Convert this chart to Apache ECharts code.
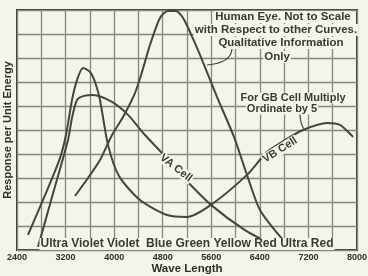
<!DOCTYPE html>
<html>
<head>
<meta charset="utf-8">
<script src="https://cdn.jsdelivr.net/npm/echarts@6/dist/echarts.min.js"></script>
<style>
html,body{margin:0;padding:0;background:#f5f4ea;}
#main{width:368px;height:276px;}
</style>
</head>
<body>
<div id="main"></div>
<script>
// 波长刻度标签
var xTickLabels = ['2400', '3200', '4000', '4800', '5600', '6400', '7200', '8000'];

// 人眼曲线（定性）
var eyeX = [3355, 3569, 3767, 3965, 4146, 4343, 4459, 4590, 4755, 4887, 5019, 5134, 5250, 5414, 5694, 5974, 6188, 6402, 6781];
var eyeY = [2.25, 3.0, 3.75, 4.79, 5.54, 6.54, 7.42, 8.54, 9.67, 9.96, 9.96, 9.67, 9.08, 8.13, 6.38, 4.71, 3.13, 1.67, 0.42];

// VA 光电管
var vaX = [2746, 2993, 3240, 3306, 3388, 3504, 3652, 3964, 4228, 4508, 4788, 5002, 5134, 5595, 6155, 6649];
var vaY = [0.13, 2.35, 4.58, 5.5, 6.25, 6.42, 6.46, 6.17, 5.63, 4.79, 4.04, 3.42, 3.04, 1.88, 0.83, 0.17];

// VB 光电管
var vbX = [2581, 2878, 3108, 3207, 3306, 3388, 3487, 3602, 3685, 3767, 3899, 4080, 4426, 4871, 5200, 5595, 6188, 6517, 6814, 7111, 7506, 7720, 7935];
var vbY = [0.63, 2.38, 3.83, 4.79, 6.25, 7.08, 7.58, 7.42, 7.0, 6.25, 4.38, 3.08, 2.08, 1.46, 1.38, 1.88, 3.13, 4.08, 4.58, 5.0, 5.29, 5.21, 4.71];

var bg = '#f5f4ea';
var ink = '#45453c';
var font = 'Liberation Sans';

function pairs(xs, ys) {
    var out = [];
    for (var i = 0, l = xs.length; i < l; i++) {
        out.push([xs[i], ys[i]]);
    }
    return out;
}

function curve(name, xs, ys) {
    return {
        name: name,
        type: 'line',
        smooth: 0.25,
        showSymbol: false,
        lineStyle: {color: ink, width: 2},
        data: pairs(xs, ys)
    };
}

function note(x, y, str, size, rot) {
    return {
        type: 'text',
        x: x, y: y,
        rotation: rot || 0,
        z: 10,
        style: {
            text: str,
            font: 'bold ' + size + 'px ' + font,
            fill: '#3a3a34',
            align: 'center',
            verticalAlign: 'middle',
            backgroundColor: bg,
            padding: [0, 1]
        }
    };
}

var myChart = echarts.init(document.getElementById('main'));

var option = {
    backgroundColor: bg,
    animation: false,
    grid: {
        left: 17, right: 11, top: 10, bottom: 26,
        outerBoundsMode: 'none',
        show: true,
        borderColor: '#3a3a34',
        borderWidth: 2
    },
    xAxis: {
        type: 'value',
        min: 2400, max: 8000, interval: 400,
        name: 'Wave Length',
        nameLocation: 'middle',
        nameGap: 13,
        nameMoveOverlap: false,
        nameTextStyle: {fontFamily: font, fontWeight: 'bold', fontSize: 11.5, color: '#2e2e2a'},
        axisLine: {show: false},
        axisTick: {show: false},
        axisLabel: {
            margin: 3,
            fontFamily: font, fontWeight: 'bold', fontSize: 9, color: '#2e2e2a',
            hideOverlap: false,
            formatter: function (v) {
                return xTickLabels.indexOf(String(v)) >= 0 ? String(v) : '';
            }
        },
        splitLine: {lineStyle: {color: '#85857a', width: 1.3}}
    },
    yAxis: {
        type: 'value',
        min: 0, max: 10, interval: 1,
        name: 'Response per Unit Energy',
        nameLocation: 'middle',
        nameGap: 4,
        nameMoveOverlap: false,
        nameTextStyle: {fontFamily: font, fontWeight: 'bold', fontSize: 11, color: '#2e2e2a'},
        axisLine: {show: false},
        axisTick: {show: false},
        axisLabel: {show: false},
        splitLine: {lineStyle: {color: '#85857a', width: 1.3}}
    },
    series: [
        curve('Human Eye', eyeX, eyeY),
        curve('VA Cell', vaX, vaY),
        curve('VB Cell', vbX, vbY)
    ],
    graphic: [
        note(283, 17, 'Human Eye. Not to Scale', 11.5),
        note(276, 30, 'with Respect to other Curves.', 11.5),
        note(281, 43, 'Qualitative Information', 11.5),
        note(277, 57, 'Only', 11.5),
        {
            type: 'bezierCurve', z: 9,
            shape: {x1: 232, y1: 49, x2: 207, y2: 65, cpx1: 231, cpy1: 63},
            style: {stroke: ink, lineWidth: 1.2, fill: null}
        },
        note(293, 98, 'For GB Cell Multiply', 11),
        note(282, 109, 'Ordinate by 5', 11),
        {
            type: 'bezierCurve', z: 9,
            shape: {x1: 300, y1: 114, x2: 304, y2: 129, cpx1: 300, cpy1: 123},
            style: {stroke: ink, lineWidth: 1.2, fill: null}
        },
        note(176, 168, 'VA Cell', 11, -0.66),
        note(280, 150, 'VB Cell', 11, 0.56),
        note(187, 244, 'Ultra Violet Violet  Blue Green Yellow Red Ultra Red', 12)
    ]
};

myChart.setOption(option);
</script>
</body>
</html>
